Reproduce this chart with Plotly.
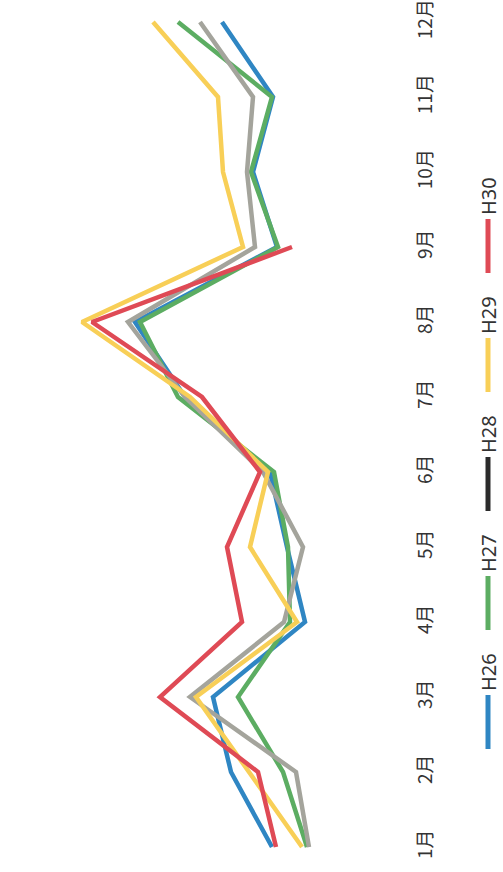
import plotly.graph_objects as go

months = ["1月", "2月", "3月", "4月", "5月", "6月", "7月", "8月", "9月", "10月", "11月", "12月"]
series_names = ["H26", "H27", "H28", "H29", "H30"]
h26 = [58, 99, 117, 25, 43, 60, 145, 195, 53, 77, 57, 108]
h27 = [23, 47, 92, 40, 42, 56, 152, 190, 52, 79, 58, 152]
h28 = [21, 34, 140, 46, 27, 67, 145, 202, 75, 83, 77, 130]
h29 = [28, 81, 134, 33, 80, 62, 140, 248, 87, 107, 112, 177]
h30 = [54, 72, 170, 88, 103, 70, 128, 238, 38]

series_values = [h26, h27, h28, h29, h30]
line_colors = ["#2f86c3", "#5cad62", "#a4a49c", "#f8cf57", "#df4a55"]
legend_colors = ["#2f86c3", "#5cad62", "#2b2b2b", "#f8cf57", "#df4a55"]

W, H = 503, 872
plot_right = 412

fig = go.Figure()
for name, vals, col in zip(series_names, series_values, line_colors):
    fig.add_trace(go.Scatter(
        x=vals, y=months[:len(vals)], mode="lines", name=name,
        line=dict(color=col, width=4.5), showlegend=False,
    ))

# rotated legend built from annotations and short swatch lines
shapes = []
annotations = []
legend_x = 488
for k, (name, col) in enumerate(zip(series_names, legend_colors)):
    c = 700 - 119 * k
    xp = legend_x / plot_right
    shapes.append(dict(type="line", xref="paper", yref="paper",
                       x0=xp, x1=xp, y0=1 - (c - 5) / H, y1=1 - (c + 49) / H,
                       line=dict(color=col, width=5)))
    annotations.append(dict(text=name, xref="paper", yref="paper",
                            x=xp, y=1 - (c - 28) / H, xanchor="center", yanchor="middle",
                            textangle=-90, showarrow=False,
                            font=dict(size=20, color="#333333", family="Noto Sans, Noto Sans CJK JP")))

fig.update_layout(
    width=W, height=H,
    margin=dict(l=0, r=W - plot_right, t=0, b=0, autoexpand=False),
    paper_bgcolor="white", plot_bgcolor="white",
    shapes=shapes, annotations=annotations,
    xaxis=dict(range=[330, -82], visible=False, showgrid=False, zeroline=False),
    yaxis=dict(type="category", categoryorder="array", categoryarray=months,
               range=[-0.333, 11.293], side="right", tickangle=-90,
               showgrid=False, zeroline=False, showline=False, ticks="",
               tickfont=dict(size=19, color="#333333", family="Noto Sans CJK JP")),
)

fig.write_html("out.html", config={"displayModeBar": False},
               post_script="document.body.style.margin='0';document.body.style.overflow='hidden';")
